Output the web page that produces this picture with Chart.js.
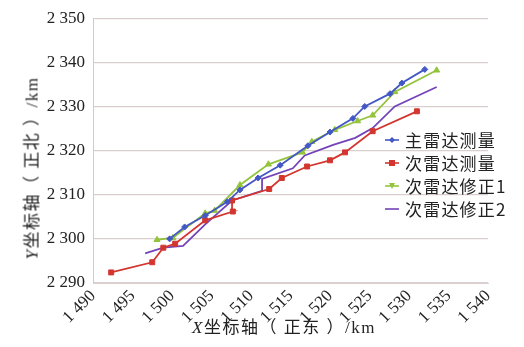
<!DOCTYPE html>
<html>
<head>
<meta charset="utf-8">
<script src="https://cdn.jsdelivr.net/npm/chart.js@4.4.1/dist/chart.umd.min.js"></script>
<style>
  body { margin: 0; background: #fff; }
  #wrap { position: relative; width: 524px; height: 347px; }
  .ttl { position: absolute; white-space: nowrap; font-family: "Liberation Serif", "Noto Sans CJK SC", serif; font-size: 17px; letter-spacing: 1.5px; color: #222; }
  .ttl i { font-style: italic; }
  #ytitle { left: 30px; top: 168px; transform: translate(-50%, -50%) rotate(-90deg); }
  #xtitle { left: 284px; top: 325px; transform: translate(-50%, -50%); }
  #legend { position: absolute; left: 384px; top: 128px; font-family: "Noto Sans CJK SC", serif; font-size: 17px; color: #222; }
  #legend div { height: 23px; display: flex; align-items: center; letter-spacing: 1.2px; }
  #legend svg { margin-right: 5px; }
</style>
</head>
<body>
<div id="wrap">
  <canvas id="c" width="524" height="347"></canvas>
  <div id="ytitle" class="ttl"><i>Y</i>坐标轴（ 正北 ）/km</div>
  <div id="xtitle" class="ttl"><i>X</i>坐标轴（ 正东 ）/km</div>
  <div id="legend"></div>
</div>
<script>
// --- datos ---
const zhuX = [1499.7, 1501.6, 1504.2, 1507.0, 1508.6, 1510.9, 1513.7, 1517.2, 1520.0, 1522.9, 1524.4, 1527.6, 1529.1, 1532.0];
const zhuY = [2300.0, 2302.7, 2305.3, 2308.4, 2311.1, 2313.8, 2316.7, 2321.1, 2324.2, 2327.3, 2330.0, 2332.9, 2335.3, 2338.4];

const ciX = [1492.3, 1497.5, 1498.9, 1500.4, 1504.2, 1507.7, 1507.6, 1512.3, 1513.9, 1517.1, 1520.0, 1521.9, 1525.4, 1531.0];
const ciY = [2292.4, 2294.7, 2298.0, 2298.9, 2304.2, 2306.2, 2308.7, 2311.3, 2313.8, 2316.4, 2317.8, 2319.6, 2324.4, 2328.9];

const xz1X = [1498.1, 1500.1, 1504.2, 1505.4, 1508.6, 1512.2, 1516.5, 1517.7, 1520.6, 1523.5, 1525.4, 1528.2, 1533.5];
const xz1Y = [2299.8, 2300.2, 2305.8, 2306.4, 2312.2, 2316.9, 2319.6, 2322.0, 2324.7, 2326.7, 2328.0, 2333.3, 2338.2];

const xz2X = [1496.6, 1498.9, 1501.4, 1504.2, 1507.6, 1511.4, 1511.4, 1515.3, 1516.8, 1520.4, 1523.2, 1525.4, 1528.2, 1533.5];
const xz2Y = [2296.7, 2298.0, 2298.4, 2303.3, 2308.7, 2310.9, 2313.6, 2316.0, 2318.9, 2321.3, 2322.9, 2325.1, 2330.0, 2334.4];

const xTicks = [1490, 1495, 1500, 1505, 1510, 1515, 1520, 1525, 1530, 1535, 1540];
const yTicks = [2290, 2300, 2310, 2320, 2330, 2340, 2350];

const series = [
  { name: '主雷达测量', xs: zhuX, ys: zhuY, color: '#4358c4', marker: 'rectRot', r: 3 },
  { name: '次雷达测量', xs: ciX, ys: ciY, color: '#d2362f', marker: 'rect', r: 3.5 },
  { name: '次雷达修正1', xs: xz1X, ys: xz1Y, color: '#93c43c', marker: 'triangle', r: 3.5 },
  { name: '次雷达修正2', xs: xz2X, ys: xz2Y, color: '#7444b8', marker: 'circle', r: 0 }
];

function fmt(v) {
  const s = String(v);
  return s.slice(0, 1) + ' ' + s.slice(1);
}

const tickFont = { family: '"Liberation Serif", serif', size: 17 };

new Chart(document.getElementById('c'), {
  type: 'scatter',
  data: {
    datasets: series.map(s => ({
      label: s.name,
      data: s.xs.map((x, i) => ({ x: x, y: s.ys[i] })),
      showLine: true,
      borderColor: s.color,
      backgroundColor: s.color,
      borderWidth: 1.8,
      pointStyle: s.marker,
      pointRadius: s.r,
      pointBorderWidth: 1,
      tension: 0
    }))
  },
  options: {
    responsive: false,
    animation: false,
    devicePixelRatio: 1,
    layout: { padding: { left: 0, right: 36, top: 13, bottom: 0 } },
    plugins: { legend: { display: false }, tooltip: { enabled: false } },
    scales: {
      x: {
        type: 'linear',
        min: xTicks[0], max: xTicks[xTicks.length - 1],
        afterBuildTicks: s => { s.ticks = xTicks.map(v => ({ value: v })); },
        ticks: { font: tickFont, color: '#222', minRotation: 45, maxRotation: 45, padding: 3, callback: fmt },
        grid: { color: 'rgba(0,0,0,0)', drawTicks: false },
        border: { display: true, color: '#dccfcf', width: 1 },
        afterFit: s => { s.height = 64; }
      },
      y: {
        min: yTicks[0], max: yTicks[yTicks.length - 1],
        afterBuildTicks: s => { s.ticks = yTicks.map(v => ({ value: v })); },
        ticks: { font: tickFont, color: '#222', padding: 8, callback: fmt },
        grid: { color: '#d9cfcf', lineWidth: 1.2, drawTicks: false },
        border: { display: true, color: '#cfcaca', width: 1 },
        afterFit: s => { s.width = 93; }
      }
    }
  }
});

// leyenda HTML
const leg = document.getElementById('legend');
series.forEach(s => {
  const row = document.createElement('div');
  let mk = '';
  if (s.marker === 'rect') mk = `<rect x="5" y="4" width="6" height="6" fill="${s.color}"/>`;
  else if (s.marker === 'rectRot') mk = `<polygon points="8,4 11,7 8,10 5,7" fill="${s.color}"/>`;
  else if (s.marker === 'triangle') mk = `<polygon points="8,10 11,4 5,4" fill="${s.color}"/>`;
  row.innerHTML = `<svg width="16" height="14"><line x1="1" y1="7" x2="15" y2="7" stroke="${s.color}" stroke-width="1.6"/>${mk}</svg><span>${s.name}</span>`;
  leg.appendChild(row);
});
</script>
</body>
</html>
